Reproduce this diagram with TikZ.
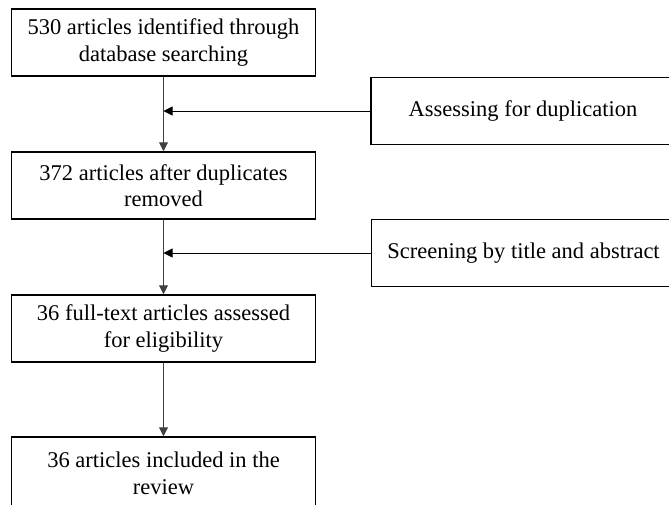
\documentclass[tikz,border=0pt]{standalone}
\usepackage{fontspec}
\setmainfont{Liberation Serif}
\usetikzlibrary{arrows.meta}

\begin{document}
\begin{tikzpicture}[x=1pt, y=-1pt, >={Triangle[length=9pt,width=9pt]},
  stage/.style={draw, line width=1.5pt, align=center, minimum width=304pt, minimum height=67pt, inner sep=0pt, font=\fontsize{22.5}{26.5}\selectfont},
  flow/.style={->, line width=1pt, draw=black!75},
  side/.style={->, line width=0.8pt}]
\useasboundingbox (0,0) rectangle (669,504);
\clip (0,0) rectangle (669,504);

\node[stage] (s1) at (163.5,42.5) {530 articles identified through\\database searching};
\node[stage] (s2) at (163.5,185.5) {372 articles after duplicates\\removed};
\node[stage] (s3) at (163.5,328.5) {36 full-text articles assessed\\for eligibility};
\node[stage, minimum height=73pt] (s4) at (163.5,473.5) {36 articles included in the\\review};
\draw[flow] (s1) -- (s2);
\draw[flow] (s2) -- (s3);
\draw[flow] (s3) -- (s4);

\node[stage] (dup) at (523,111) {Assessing for duplication};
\node[stage] (scr) at (523.5,253) {Screening by title and abstract};
\coordinate (j1) at (s1.south |- dup.west);
\coordinate (j2) at (s2.south |- scr.west);
\draw[side] (dup) -- (j1);
\draw[side] (scr) -- (j2);
\end{tikzpicture}
\end{document}
